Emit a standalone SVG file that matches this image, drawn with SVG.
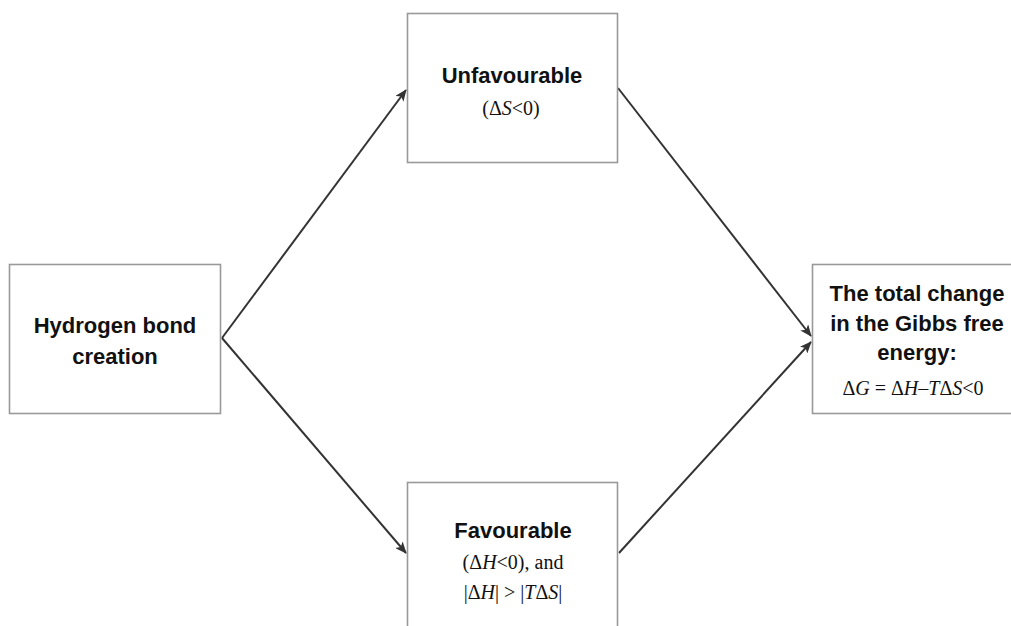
<svg xmlns="http://www.w3.org/2000/svg" width="1011" height="626" viewBox="0 0 1011 626">
<style>
.box{fill:#fff;stroke:#999;stroke-width:1.6}
.b{font-family:"Liberation Sans",Arial,sans-serif;font-weight:bold;font-size:22px;fill:#111;text-anchor:middle}
.s{font-family:"Liberation Serif","Times New Roman",serif;font-size:20px;fill:#111;text-anchor:middle}
.c{fill:none;stroke:#333;stroke-width:2}
</style>
<defs>
<marker id="ah" viewBox="0 0 12 10" refX="11" refY="5" markerWidth="12" markerHeight="10" markerUnits="userSpaceOnUse" orient="auto">
<path d="M0,0 L12,5 L0,10 L3,5 Z" fill="#333"/>
</marker>
</defs>
<rect width="1011" height="626" fill="#fff"/>
<g id="connectors">
<line class="c" x1="222" y1="338" x2="406" y2="90" marker-end="url(#ah)"/>
<line class="c" x1="222" y1="338" x2="406" y2="553" marker-end="url(#ah)"/>
<line class="c" x1="618" y1="88" x2="811" y2="336" marker-end="url(#ah)"/>
<line class="c" x1="619" y1="553" x2="811" y2="342" marker-end="url(#ah)"/>
</g>
<g id="node-hydrogen">
<rect class="box" x="9.5" y="264.5" width="211" height="149"/>
<text class="b" x="115" y="333">Hydrogen bond</text>
<text class="b" x="115" y="364">creation</text>
</g>
<g id="node-unfavourable">
<rect class="box" x="407.5" y="13.5" width="210" height="149"/>
<text class="b" x="512" y="83">Unfavourable</text>
<text class="s" x="511" y="115">(Δ<tspan font-style="italic">S</tspan>&lt;0)</text>
</g>
<g id="node-favourable">
<rect class="box" x="407.5" y="482.5" width="210" height="160"/>
<text class="b" x="513" y="538">Favourable</text>
<text class="s" x="513" y="569">(Δ<tspan font-style="italic">H</tspan>&lt;0), and</text>
<text class="s" x="513" y="599">|Δ<tspan font-style="italic">H</tspan>| &gt; |<tspan font-style="italic">T</tspan>Δ<tspan font-style="italic">S</tspan>|</text>
</g>
<g id="node-gibbs">
<rect class="box" x="812.5" y="264.5" width="212" height="149"/>
<text class="b" x="917" y="301">The total change</text>
<text class="b" x="917" y="331">in the Gibbs free</text>
<text class="b" x="917" y="360">energy:</text>
<text class="s" x="913" y="395">Δ<tspan font-style="italic">G</tspan> = Δ<tspan font-style="italic">H</tspan>–<tspan font-style="italic">T</tspan>Δ<tspan font-style="italic">S</tspan>&lt;0</text>
</g>
</svg>
